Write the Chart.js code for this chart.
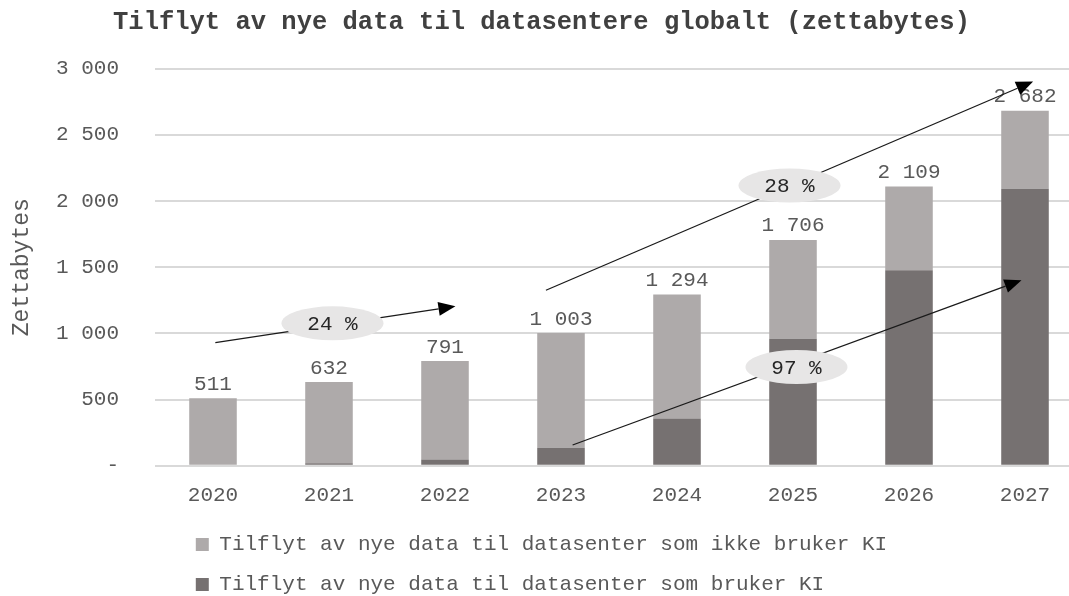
<!DOCTYPE html>
<html>
<head>
<meta charset="utf-8">
<script src="https://cdn.jsdelivr.net/npm/chart.js@4"></script>
<style>
  html, body { margin: 0; padding: 0; background: #fff; overflow: hidden; }
  #wrap { position: relative; width: 1083px; height: 605px; }
</style>
</head>
<body>
<div id="wrap"><canvas id="dataChart"></canvas></div>
<script>
const years = ['2020', '2021', '2022', '2023', '2024', '2025', '2026', '2027'];
const withAI = [0, 20, 48, 136, 358, 960, 1477, 2093];
const withoutAI = [511, 612, 743, 867, 936, 746, 632, 589];
const totals = [511, 632, 791, 1003, 1294, 1706, 2109, 2682];

// growth notes: [category index, value] in chart units
const growthText = ['24 %', '28 %', '97 %'];
const growthAt = [[1.03, 1076], [4.97, 2117], [5.03, 746]];
const arrowFrom = [[0.02, 930], [2.87, 1326], [3.1, 157]];
const arrowTo = [[2.09, 1205], [7.07, 2902], [6.97, 1402]];

const fontFamily = '"Liberation Mono", monospace';
Chart.defaults.font.family = fontFamily;

function fmt(v) {
  return v.toLocaleString('en-US').replace(/,/g, ' ');
}

const overlay = {
  id: 'overlay',
  afterDatasetsDraw(chart) {
    const { ctx, scales: { x, y } } = chart;
    ctx.save();

    // totals above stacks
    ctx.font = '21px ' + fontFamily;
    ctx.fillStyle = '#595959';
    ctx.textAlign = 'center';
    ctx.textBaseline = 'middle';
    totals.forEach((t, i) => {
      ctx.fillText(fmt(t), x.getPixelForValue(i), y.getPixelForValue(t) - 14);
    });

    // arrows
    ctx.strokeStyle = '#1a1a1a';
    ctx.fillStyle = '#000';
    ctx.lineWidth = 1.3;
    arrowFrom.forEach((a, i) => {
      const x0 = x.getPixelForValue(a[0]), y0 = y.getPixelForValue(a[1]);
      const x1 = x.getPixelForValue(arrowTo[i][0]), y1 = y.getPixelForValue(arrowTo[i][1]);
      const ang = Math.atan2(y1 - y0, x1 - x0);
      const len = 17, half = 7;
      const bx = x1 - len * Math.cos(ang), by = y1 - len * Math.sin(ang);
      ctx.beginPath();
      ctx.moveTo(x0, y0);
      ctx.lineTo(bx, by);
      ctx.stroke();
      ctx.beginPath();
      ctx.moveTo(x1, y1);
      ctx.lineTo(bx + half * Math.sin(ang), by - half * Math.cos(ang));
      ctx.lineTo(bx - half * Math.sin(ang), by + half * Math.cos(ang));
      ctx.closePath();
      ctx.fill();
    });

    // growth bubbles
    growthAt.forEach((g, i) => {
      const cx = x.getPixelForValue(g[0]), cy = y.getPixelForValue(g[1]);
      ctx.beginPath();
      ctx.ellipse(cx, cy, 51, 17, 0, 0, Math.PI * 2);
      ctx.fillStyle = '#E7E6E6';
      ctx.fill();
      ctx.fillStyle = '#262626';
      ctx.font = '21px ' + fontFamily;
      ctx.fillText(growthText[i], cx, cy + 1);
    });

    ctx.restore();
  }
};

new Chart(document.getElementById('dataChart'), {
  type: 'bar',
  data: {
    labels: years,
    datasets: [
      {
        label: 'Tilflyt av nye data til datasenter som bruker KI',
        data: withAI,
        backgroundColor: '#767171',
        barPercentage: 0.41,
        categoryPercentage: 1
      },
      {
        label: 'Tilflyt av nye data til datasenter som ikke bruker KI',
        data: withoutAI,
        backgroundColor: '#AEAAAA',
        barPercentage: 0.41,
        categoryPercentage: 1
      }
    ]
  },
  options: {
    responsive: true,
    maintainAspectRatio: false,
    animation: false,
    plugins: {
      title: {
        display: true,
        text: 'Tilflyt av nye data til datasentere globalt (zettabytes)',
        font: { size: 25.5, weight: 'bold' },
        color: '#404040',
        padding: { top: 7, bottom: 31 }
      },
      legend: {
        position: 'bottom',
        reverse: true,
        labels: {
          font: { size: 21 },
          color: '#595959',
          boxWidth: 13,
          boxHeight: 13,
          padding: 19,
          generateLabels(chart) {
            const items = Chart.defaults.plugins.legend.labels.generateLabels(chart);
            const longest = Math.max(...items.map(it => it.text.length));
            items.forEach(it => { it.text = it.text.padEnd(longest, ' '); });
            return items;
          }
        }
      },
      tooltip: { enabled: false }
    },
    scales: {
      x: {
        stacked: true,
        grid: { display: false },
        border: { display: false },
        ticks: { font: { size: 21 }, color: '#595959', padding: 9 },
        afterFit(scale) { scale.height -= 2; }
      },
      y: {
        stacked: true,
        min: 0,
        max: 3000,
        ticks: {
          stepSize: 500,
          font: { size: 21 },
          color: '#595959',
          padding: 36,
          callback: v => v === 0 ? '-' : fmt(v)
        },
        grid: { color: '#D9D9D9', lineWidth: 2, drawTicks: false },
        border: { display: false },
        title: {
          display: true,
          text: 'Zettabytes',
          font: { size: 23 },
          color: '#595959',
          padding: { top: 8, bottom: 20 }
        },
        afterFit(scale) { scale.width = 155; }
      }
    }
  },
  plugins: [overlay]
});
</script>
</body>
</html>
